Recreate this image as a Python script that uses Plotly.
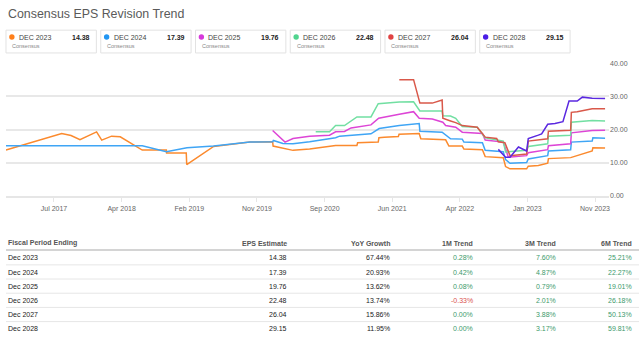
import plotly.graph_objects as go

W, H = 640, 337
FONT = "Arial, Liberation Sans, sans-serif"

# ---------------- data ----------------
series_names = ["DEC 2023", "DEC 2024", "DEC 2025", "DEC 2026", "DEC 2027", "DEC 2028"]
series_colors = ["#fb8a2e", "#3fa5f5", "#dd45d6", "#72dfa2", "#d9584a", "#5a28e0"]
legend_dot_colors = ["#ff7f1a", "#2196f3", "#d63adb", "#50d48e", "#e04343", "#4a1ee6"]
consensus = [14.38, 17.39, 19.76, 22.48, 26.04, 29.15]

d2023_dates = ["2016-12-17", "2017-08-12", "2017-09-21", "2017-10-29", "2018-01-08", "2018-01-30",
               "2018-03-13", "2018-04-19", "2018-07-22", "2018-11-02", "2018-11-03", "2019-01-26",
               "2019-01-28", "2019-05-23", "2019-10-25", "2020-01-30", "2020-02-01", "2020-04-26",
               "2020-07-06", "2020-09-29", "2020-10-25", "2021-01-24", "2021-01-27", "2021-04-25",
               "2021-04-28", "2021-05-21", "2021-07-20", "2021-07-23", "2021-10-17", "2021-10-24",
               "2022-02-07", "2022-02-21", "2022-04-19", "2022-04-26", "2022-07-14", "2022-07-26",
               "2022-10-11", "2022-10-21", "2022-11-09", "2023-01-19", "2023-01-26", "2023-03-10",
               "2023-04-19", "2023-04-22", "2023-07-26", "2023-10-26", "2023-10-29", "2023-12-20"]
d2023_vals = [13.8, 18.8, 18.2, 16.9, 19.3, 16.8,
              18.0, 17.8, 13.8, 13.8, 12.9, 12.9,
              9.4, 14.9, 16.2, 16.3, 15.0, 13.7,
              14.1, 15.0, 15.2, 15.2, 16.0, 16.2,
              17.5, 17.7, 17.9, 18.6, 18.8, 17.2,
              16.9, 15.0, 15.0, 14.1, 13.9, 11.8,
              11.5, 8.8, 8.1, 8.1, 8.9, 9.1,
              9.8, 11.2, 11.5, 13.5, 14.5, 14.38]

d2024_dates = ["2016-12-17", "2018-07-22", "2018-11-02", "2019-01-29", "2019-05-23", "2019-10-25",
               "2020-01-30", "2020-02-02", "2020-03-14", "2020-04-26", "2020-07-06", "2020-09-29",
               "2020-10-25", "2020-11-11", "2021-01-24", "2021-03-25", "2021-04-29", "2021-07-24",
               "2021-10-17", "2021-10-20", "2022-01-23", "2022-02-28", "2022-04-19", "2022-04-26",
               "2022-07-14", "2022-07-26", "2022-10-11", "2022-10-21", "2022-11-09", "2023-01-19",
               "2023-01-26", "2023-03-10", "2023-04-19", "2023-04-22", "2023-07-26", "2023-07-29",
               "2023-10-26", "2023-10-29", "2023-12-20"]
d2024_vals = [15.1, 15.1, 13.3, 14.5, 15.0, 16.2,
              16.3, 16.7, 15.8, 15.7, 16.3, 17.2,
              17.5, 18.0, 18.5, 18.7, 20.3, 21.2,
              21.8, 19.5, 19.2, 17.2, 17.1, 16.2,
              16.0, 13.7, 13.3, 10.9, 9.8, 10.0,
              11.1, 11.6, 12.1, 13.5, 13.9, 16.2,
              16.5, 17.5, 17.39]

d2025_dates = ["2020-01-30", "2020-03-23", "2020-04-26", "2020-07-06", "2020-09-29", "2020-10-25",
               "2020-12-02", "2020-12-30", "2021-03-25", "2021-04-27", "2021-07-24", "2021-09-23",
               "2021-10-17", "2021-12-12", "2022-01-26", "2022-02-07", "2022-03-22", "2022-04-19",
               "2022-07-14", "2022-07-26", "2022-10-11", "2022-11-02", "2023-01-19", "2023-01-26",
               "2023-04-19", "2023-04-22", "2023-07-26", "2023-07-29", "2023-10-26", "2023-12-20"]
d2025_vals = [19.7, 16.2, 17.3, 18.0, 18.3, 19.3,
              19.4, 20.5, 21.4, 23.4, 24.6, 25.4,
              23.4, 23.2, 22.2, 21.2, 20.7, 19.2,
              18.8, 16.8, 16.2, 11.6, 12.1, 13.0,
              13.9, 15.1, 15.7, 19.0, 19.7, 19.76]

d2026_dates = ["2020-08-01", "2020-09-29", "2020-10-25", "2020-12-02", "2021-01-24", "2021-03-25",
               "2021-04-25", "2021-07-24", "2021-09-23", "2021-10-20", "2022-01-23", "2022-01-26",
               "2022-02-28", "2022-03-22", "2022-04-19", "2022-06-22", "2022-07-26", "2022-09-13",
               "2022-10-11", "2022-10-21", "2023-01-19", "2023-01-26", "2023-04-19", "2023-04-22",
               "2023-07-26", "2023-07-29", "2023-10-26", "2023-12-20"]
d2026_vals = [19.3, 19.3, 21.2, 21.2, 23.8, 23.8,
              27.8, 28.3, 28.4, 25.6, 25.6, 24.2,
              24.1, 23.4, 20.9, 20.7, 17.5, 16.9,
              16.5, 13.2, 13.7, 14.9, 15.7, 18.0,
              18.3, 22.2, 22.7, 22.6]

d2027_dates = ["2021-07-24", "2021-09-23", "2021-10-20", "2021-12-12", "2022-01-23", "2022-01-26",
               "2022-02-28", "2022-03-22", "2022-04-19", "2022-06-22", "2022-07-26", "2022-09-13",
               "2022-09-20", "2022-10-18", "2022-11-09", "2023-01-19", "2023-01-26", "2023-04-19",
               "2023-04-22", "2023-07-26", "2023-07-29", "2023-08-23", "2023-10-26", "2023-12-20"]
d2027_vals = [35.1, 35.1, 28.0, 28.0, 28.9, 23.4,
              22.6, 22.1, 21.2, 20.7, 17.7, 17.3,
              16.3, 16.0, 12.1, 12.6, 16.5, 17.2,
              19.5, 19.8, 25.2, 25.4, 26.3, 26.3]

d2028_dates = ["2022-09-20", "2022-10-21", "2022-11-09", "2022-12-15", "2023-01-19", "2023-01-26",
               "2023-03-10", "2023-03-24", "2023-04-19", "2023-05-20", "2023-06-23", "2023-07-19",
               "2023-08-23", "2023-09-14", "2023-10-26", "2023-12-20"]
d2028_vals = [14.0, 11.6, 11.6, 14.7, 13.5, 17.3,
              18.3, 18.7, 21.6, 21.8, 22.4, 28.6,
              28.6, 29.8, 29.5, 29.4]

x_tick_dates = ["2017-07-10", "2018-04-25", "2019-02-08", "2019-11-24", "2020-09-08",
                "2021-06-24", "2022-04-09", "2023-01-22", "2023-11-07"]
x_tick_labels = ["Jul 2017", "Apr 2018", "Feb 2019", "Nov 2019", "Sep 2020",
                 "Jun 2021", "Apr 2022", "Jan 2023", "Nov 2023"]
y_ticks = [0, 10, 20, 30, 40]

table_headers = ["Fiscal Period Ending", "EPS Estimate", "YoY Growth", "1M Trend", "3M Trend", "6M Trend"]
periods = ["Dec 2023", "Dec 2024", "Dec 2025", "Dec 2026", "Dec 2027", "Dec 2028"]
eps_est = [14.38, 17.39, 19.76, 22.48, 26.04, 29.15]
yoy_growth = [67.44, 20.93, 13.62, 13.74, 15.86, 11.95]
trend_1m = [0.28, 0.42, 0.08, -0.33, 0.00, 0.00]
trend_3m = [7.60, 4.87, 0.79, 2.01, 3.88, 3.17]
trend_6m = [25.21, 22.27, 19.01, 26.18, 50.13, 59.81]

# ---------------- figure ----------------
def px(x):
    return x / W

def py(y):
    return 1 - y / H

fig = go.Figure()
all_dates = [d2023_dates, d2024_dates, d2025_dates, d2026_dates, d2027_dates, d2028_dates]
all_vals = [d2023_vals, d2024_vals, d2025_vals, d2026_vals, d2027_vals, d2028_vals]
for name, col, xs, ys in zip(series_names, series_colors, all_dates, all_vals):
    fig.add_trace(go.Scatter(x=xs, y=ys, mode="lines", name=name,
                             line=dict(color=col, width=1.5), showlegend=False))

fig.update_layout(
    width=W, height=H, autosize=False,
    margin=dict(l=0, r=0, t=0, b=0),
    paper_bgcolor="white", plot_bgcolor="white",
    font=dict(family=FONT, size=7, color="#666"),
    xaxis=dict(domain=[px(6), px(610)], type="date",
               range=["2016-12-17", "2024-01-06"],
               tickmode="array", tickvals=x_tick_dates, ticktext=x_tick_labels,
               showgrid=False, zeroline=False,
               showline=True, linecolor="#e6e6e6", linewidth=1.5,
               ticks="outside", ticklen=5, tickcolor="#e6e6e6", tickwidth=1,
               tickfont=dict(size=7, color="#666")),
    yaxis=dict(domain=[py(195.7), py(60.7)], range=[0, 40],
               side="right", tickmode="array", tickvals=y_ticks,
               tickformat=".2f", showgrid=True, gridcolor="#e8e8e8", gridwidth=1.5,
               zeroline=False, showline=False, ticks="",
               tickfont=dict(size=7, color="#666")),
)

annotations = []
shapes = []

# title
annotations.append(dict(x=px(6), y=py(10), xref="paper", yref="paper", xanchor="left",
                        yanchor="middle", showarrow=False, text="Consensus EPS Revision Trend",
                        font=dict(size=12.4, color="#5a5a5a", family=FONT)))

# legend boxes
for i, (name, dot, val) in enumerate(zip(series_names, legend_dot_colors, consensus)):
    x0 = 6 + i * 94.9
    x1 = x0 + 90.5
    shapes.append(dict(type="rect", xref="paper", yref="paper",
                       x0=px(x0), x1=px(x1), y0=py(50), y1=py(26.7),
                       line=dict(color="#e2e2e2", width=1), fillcolor="white", layer="below"))
    shapes.append(dict(type="circle", xref="paper", yref="paper",
                       x0=px(x0 + 3.2), x1=px(x0 + 8.6), y0=py(36.4), y1=py(31.0),
                       line=dict(width=0), fillcolor=dot))
    annotations.append(dict(x=px(x0 + 11), y=py(33.8), xref="paper", yref="paper",
                            xanchor="left", yanchor="middle", showarrow=False, text=name,
                            font=dict(size=7, color="#444", family=FONT)))
    annotations.append(dict(x=px(x1 - 4.5), y=py(33.8), xref="paper", yref="paper",
                            xanchor="right", yanchor="middle", showarrow=False,
                            text="<b>%.2f</b>" % val, font=dict(size=7, color="#222", family=FONT)))
    annotations.append(dict(x=px(x0 + 4.5), y=py(43.2), xref="paper", yref="paper",
                            xanchor="left", yanchor="middle", showarrow=False, text="Consensus",
                            font=dict(size=5.5, color="#888", family=FONT)))

# table
col_right = [None, 289.5, 393, 476, 558.5, 635]
header_y = 244.2
annotations.append(dict(x=px(6), y=py(header_y), xref="paper", yref="paper", xanchor="left",
                        yanchor="middle", showarrow=False, text="<b>%s</b>" % table_headers[0],
                        font=dict(size=7, color="#555", family=FONT)))
for h, xr in zip(table_headers[1:], col_right[1:]):
    annotations.append(dict(x=px(xr), y=py(header_y), xref="paper", yref="paper", xanchor="right",
                            yanchor="middle", showarrow=False, text="<b>%s</b>" % h,
                            font=dict(size=7, color="#555", family=FONT)))
shapes.append(dict(type="line", xref="paper", yref="paper", x0=px(6), x1=px(640),
                   y0=py(251.3), y1=py(251.3), line=dict(color="#d4d4d4", width=2)))

row_y0 = 259.3
row_step = 14.48
green = "#3d9a6c"
red = "#d9534f"
for r in range(len(periods)):
    yc = row_y0 + r * row_step
    annotations.append(dict(x=px(6), y=py(yc), xref="paper", yref="paper", xanchor="left",
                            yanchor="middle", showarrow=False, text=periods[r],
                            font=dict(size=7, color="#222", family=FONT)))
    cells = [("%.2f" % eps_est[r], "#222"),
             ("%.2f%%" % yoy_growth[r], "#222"),
             ("%.2f%%" % trend_1m[r], red if trend_1m[r] < 0 else green),
             ("%.2f%%" % trend_3m[r], red if trend_3m[r] < 0 else green),
             ("%.2f%%" % trend_6m[r], red if trend_6m[r] < 0 else green)]
    for (txt, col), xr in zip(cells, col_right[1:]):
        annotations.append(dict(x=px(xr), y=py(yc), xref="paper", yref="paper", xanchor="right",
                                yanchor="middle", showarrow=False, text=txt,
                                font=dict(size=7, color=col, family=FONT)))
    if r < len(periods) - 1:
        ly = yc + 7.1
        shapes.append(dict(type="line", xref="paper", yref="paper", x0=px(6), x1=px(640),
                           y0=py(ly), y1=py(ly), line=dict(color="#e6e6e6", width=1)))

fig.update_layout(annotations=annotations, shapes=shapes)
fig.write_html("out.html")
